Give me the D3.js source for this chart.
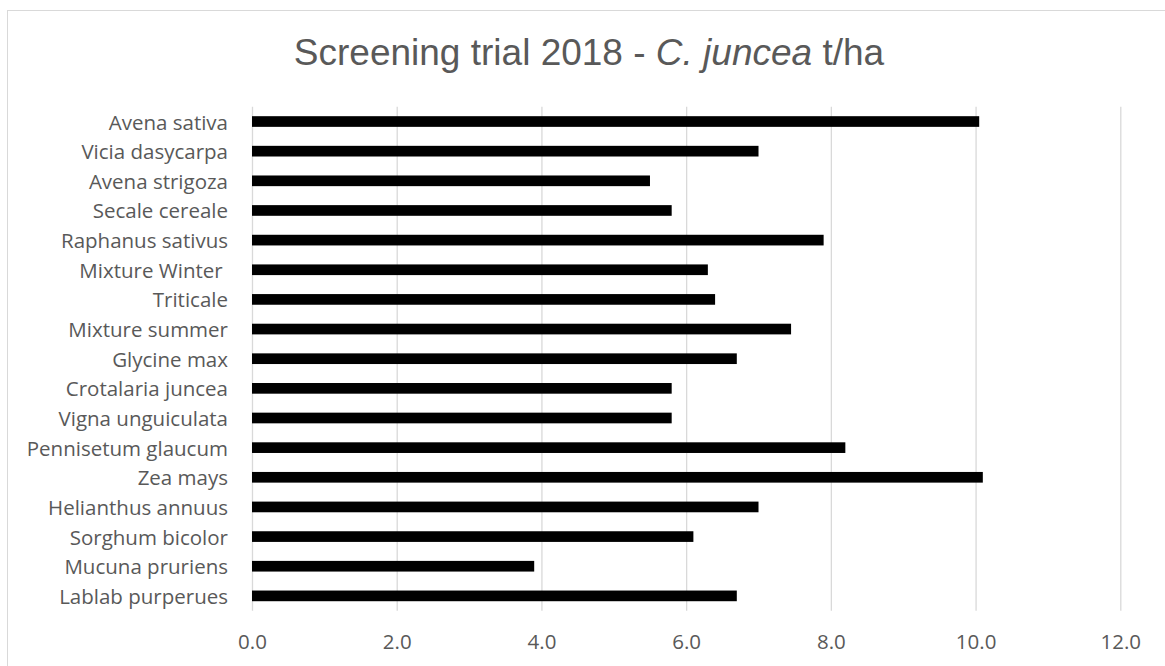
<!DOCTYPE html>
<html>
<head>
<meta charset="utf-8">
<script src="https://cdn.jsdelivr.net/npm/d3@7"></script>
<style>
  body { margin: 0; background: #fff; }
  svg { display: block; }
  text { fill: #595959; }
</style>
</head>
<body>
<svg id="chart" width="1165" height="666"></svg>
<script>
// categories listed top to bottom as shown in the chart
const categories = [
  "Avena sativa", "Vicia dasycarpa", "Avena strigoza", "Secale cereale",
  "Raphanus sativus", "Mixture Winter ", "Triticale", "Mixture summer",
  "Glycine max", "Crotalaria juncea", "Vigna unguiculata", "Pennisetum glaucum",
  "Zea mays", "Helianthus annuus", "Sorghum bicolor", "Mucuna pruriens",
  "Lablab purperues"
]
// t/ha
const values = [
  10.05, 7.0, 5.5, 5.8,
  7.9, 6.3, 6.4, 7.45,
  6.7, 5.8, 5.8, 8.2,
  10.1, 7.0, 6.1, 3.9,
  6.7
]
const xTicks = [0, 2, 4, 6, 8, 10, 12]

const svg = d3.select("#chart")

// outer chart border
svg.append("rect")
  .attr("x", 7.5).attr("y", 10.5)
  .attr("width", 1170).attr("height", 700)
  .attr("fill", "none")
  .attr("stroke", "#d9d9d9")

const plotTop = 106.7, plotBottom = 610.7

const xScale = d3.scaleLinear()
  .domain([0, 12])
  .range([252, 1120.3])

const yScale = d3.scaleBand()
  .domain(categories)
  .range([plotTop, plotBottom])
  .paddingInner(0.64)
  .paddingOuter(0.32)

// gridlines + tick labels
const xAxis = svg.append("g")
  .attr("transform", `translate(0,${plotBottom})`)
  .call(d3.axisBottom(xScale)
    .tickValues(xTicks)
    .tickFormat(d3.format(".1f"))
    .tickSize(-(plotBottom - plotTop)))

xAxis.select(".domain").remove()
xAxis.selectAll("line")
  .attr("stroke", "#d9d9d9")
  .attr("stroke-width", 1.3)
xAxis.selectAll("text")
  .attr("y", 38.5)
  .attr("dy", 0)
  .style("font-family", "'Open Sans', sans-serif")
  .style("font-size", "20.5px")
  .style("fill", "#595959")

// bars
svg.selectAll("rect.bar")
  .data(values)
  .join("rect")
  .attr("class", "bar")
  .attr("x", xScale(0))
  .attr("y", (d, i) => yScale(categories[i]))
  .attr("width", d => xScale(d) - xScale(0))
  .attr("height", yScale.bandwidth())
  .attr("fill", "#000")

// category labels
svg.append("g")
  .selectAll("text")
  .data(categories)
  .join("text")
  .attr("x", xScale(0) - 24)
  .attr("y", d => yScale(d) + yScale.bandwidth() / 2 + 8)
  .attr("text-anchor", "end")
  .attr("xml:space", "preserve")
  .style("white-space", "pre")
  .style("font-family", "'Open Sans', sans-serif")
  .style("font-size", "20.5px")
  .text(d => d)

// title
const title = svg.append("text")
  .attr("x", 589)
  .attr("y", 65)
  .attr("text-anchor", "middle")
  .style("font-family", "'Liberation Sans', Arial, sans-serif")
  .style("font-size", "37px")

title.append("tspan").text("Screening trial 2018 - ")
title.append("tspan").style("font-style", "italic").text("C. juncea")
title.append("tspan").text(" t/ha")
</script>
</body>
</html>
